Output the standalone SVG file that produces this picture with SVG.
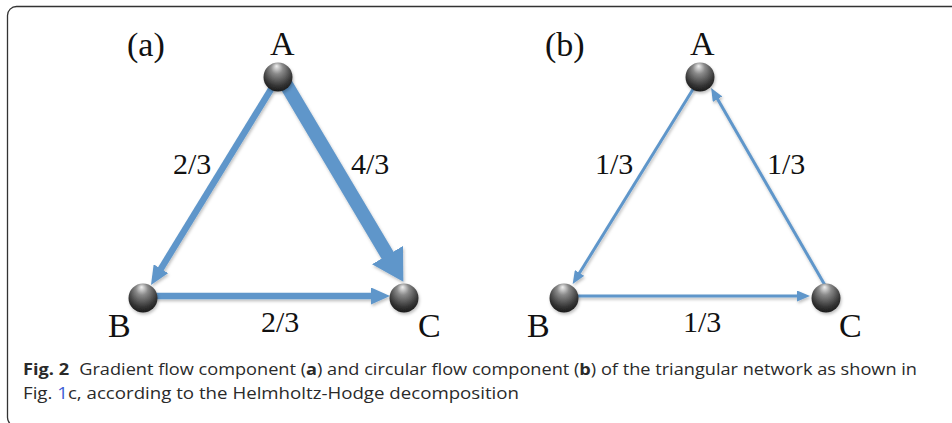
<svg xmlns="http://www.w3.org/2000/svg" width="952" height="423" viewBox="0 0 952 423">
<style>
.lbl{font-family:"Liberation Serif","Times New Roman",serif;font-size:34px;fill:#111}
.val{font-family:"Liberation Serif","Times New Roman",serif;font-size:30px;fill:#111}
.cap{font-family:"Open Sans","Noto Sans","Liberation Sans",sans-serif;font-size:16.5px;fill:#2a2a2a}
.e{fill:none;stroke:#5f96ca;stroke-linecap:butt}
.thick{stroke-width:14}
.mid{stroke-width:6.5}
.thin{stroke-width:3}
</style>
<defs>
<radialGradient id="ball" cx="0.5" cy="0.35" r="0.7" fx="0.45" fy="0.12">
<stop offset="0" stop-color="#f0f0f0"/>
<stop offset="0.3" stop-color="#8a8a8a"/>
<stop offset="0.75" stop-color="#333"/>
<stop offset="1" stop-color="#151515"/>
</radialGradient>
<filter id="sh" x="-30%" y="-30%" width="160%" height="160%">
<feDropShadow dx="1" dy="2" stdDeviation="1.5" flood-color="#000" flood-opacity="0.25"/>
</filter>
<marker id="big" viewBox="-1 -18 31 36" refX="0" refY="0" markerUnits="userSpaceOnUse" markerWidth="31" markerHeight="36" orient="auto">
<path d="M-1,-18 L30,0 L-1,18 Z" fill="#5f96ca"/>
</marker>
<marker id="med" viewBox="-1 -8.5 19 17" refX="0" refY="0" markerUnits="userSpaceOnUse" markerWidth="19" markerHeight="17" orient="auto">
<path d="M-1,-8.5 L18,0 L-1,8.5 Z" fill="#5f96ca"/>
</marker>
<marker id="sm" viewBox="-1 -5.5 13 11" refX="0" refY="0" markerUnits="userSpaceOnUse" markerWidth="13" markerHeight="11" orient="auto">
<path d="M-1,-5.5 L12,0 L-1,5.5 Z" fill="#5f96ca"/>
</marker>
</defs>
<rect x="7.5" y="6.5" width="970" height="420" rx="9" fill="#fff" stroke="#333" stroke-width="1.3"/>

<g id="connectors" filter="url(#sh)">
<line class="e mid" x1="273" y1="86" x2="160.4" y2="269.6" marker-end="url(#med)"/>
<line class="e thick" x1="284" y1="81" x2="388" y2="256" marker-end="url(#big)"/>
<line class="e mid" x1="150" y1="296" x2="372" y2="296" marker-end="url(#med)"/>
<line class="e thin" x1="695" y1="86" x2="579" y2="273.8" marker-end="url(#sm)"/>
<line class="e thin" x1="826" y1="287" x2="717.1" y2="98.3" marker-end="url(#sm)"/>
<line class="e thin" x1="570" y1="296" x2="798" y2="296" marker-end="url(#sm)"/>
</g>

<g id="panel-a">
<text class="lbl" x="127" y="56">(a)</text>
<text class="val" x="173" y="174">2/3</text>
<text class="val" x="351" y="174">4/3</text>
<text class="val" x="261" y="332">2/3</text>
</g>
<g id="a-A"><circle cx="278" cy="77" r="14.5" fill="url(#ball)" filter="url(#sh)"/><text class="lbl" x="270" y="55">A</text></g>
<g id="a-B"><circle cx="143" cy="298" r="14.5" fill="url(#ball)" filter="url(#sh)"/><text class="lbl" x="108" y="337">B</text></g>
<g id="a-C"><circle cx="404" cy="298" r="14.5" fill="url(#ball)" filter="url(#sh)"/><text class="lbl" x="418" y="337">C</text></g>

<g id="panel-b">
<text class="lbl" x="545" y="56">(b)</text>
<text class="val" x="595" y="174">1/3</text>
<text class="val" x="767" y="174">1/3</text>
<text class="val" x="683" y="332">1/3</text>
</g>
<g id="b-A"><circle cx="700" cy="77" r="14.5" fill="url(#ball)" filter="url(#sh)"/><text class="lbl" x="690" y="55">A</text></g>
<g id="b-B"><circle cx="564" cy="298" r="14.5" fill="url(#ball)" filter="url(#sh)"/><text class="lbl" x="527" y="337">B</text></g>
<g id="b-C"><circle cx="826" cy="298" r="14.5" fill="url(#ball)" filter="url(#sh)"/><text class="lbl" x="839" y="337">C</text></g>

<g id="caption">
<text class="cap" x="23" y="375" textLength="894" lengthAdjust="spacingAndGlyphs"><tspan font-weight="bold">Fig. 2</tspan><tspan dx="5"> Gradient flow component (</tspan><tspan font-weight="bold">a</tspan>) and circular flow component (<tspan font-weight="bold">b</tspan>) of the triangular network as shown in</text>
<text class="cap" x="23" y="399" textLength="496" lengthAdjust="spacingAndGlyphs">Fig. <tspan fill="#3b5fd6">1</tspan>c, according to the Helmholtz-Hodge decomposition</text>
</g>
</svg>
